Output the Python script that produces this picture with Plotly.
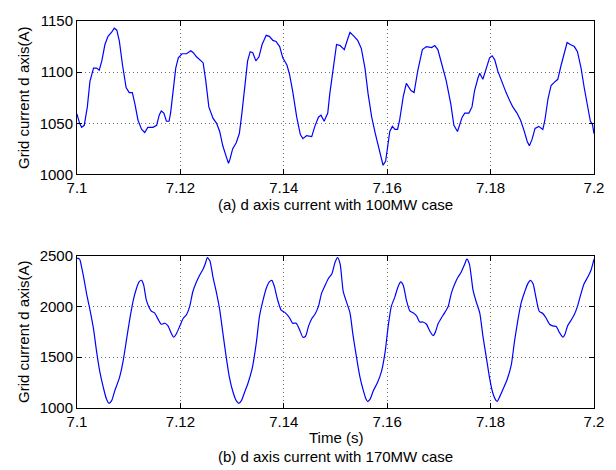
import plotly.graph_objects as go

# Grid current d-axis waveform, 100 MW case
time_100mw = [
    7.1000, 7.1005, 7.1009, 7.1014, 7.1020, 7.1025, 7.1032, 7.1038, 7.1043, 7.1048,
    7.1054, 7.1060, 7.1067, 7.1072, 7.1077, 7.1082, 7.1088, 7.1095, 7.1101, 7.1107,
    7.1112, 7.1118, 7.1125, 7.1131, 7.1137, 7.1147, 7.1154, 7.1159, 7.1163, 7.1168,
    7.1173, 7.1178, 7.1181, 7.1186, 7.1191, 7.1196, 7.1203, 7.1212, 7.1220, 7.1225,
    7.1231, 7.1240, 7.1244, 7.1249, 7.1255, 7.1263, 7.1270, 7.1276, 7.1282, 7.1289,
    7.1293, 7.1296, 7.1301, 7.1308, 7.1314, 7.1319, 7.1326, 7.1330, 7.1335, 7.1340,
    7.1346, 7.1352, 7.1358, 7.1366, 7.1372, 7.1379, 7.1385, 7.1392, 7.1398, 7.1406,
    7.1411, 7.1417, 7.1425, 7.1432, 7.1437, 7.1444, 7.1454, 7.1460, 7.1467, 7.1472,
    7.1478, 7.1485, 7.1489, 7.1496, 7.1502, 7.1509, 7.1517, 7.1522, 7.1528, 7.1534,
    7.1543, 7.1550, 7.1557, 7.1563, 7.1570, 7.1577, 7.1584, 7.1589, 7.1592, 7.1597,
    7.1601, 7.1605, 7.1610, 7.1615, 7.1620, 7.1624, 7.1631, 7.1637, 7.1646, 7.1652,
    7.1659, 7.1668, 7.1676, 7.1686, 7.1692, 7.1698, 7.1706, 7.1714, 7.1723, 7.1729,
    7.1736, 7.1740, 7.1745, 7.1750, 7.1758, 7.1764, 7.1769, 7.1776, 7.1779, 7.1785,
    7.1792, 7.1798, 7.1803, 7.1808, 7.1814, 7.1824, 7.1830, 7.1837, 7.1843, 7.1851,
    7.1858, 7.1864, 7.1871, 7.1875, 7.1880, 7.1886, 7.1893, 7.1901, 7.1905, 7.1911,
    7.1917, 7.1923, 7.1930, 7.1936, 7.1943, 7.1948, 7.1954, 7.1962, 7.1968, 7.1975,
    7.1981, 7.1988, 7.1993, 7.1997, 7.2000,
]
id_100mw = [
    1059, 1050, 1046, 1048, 1066, 1091, 1104, 1104, 1102, 1111,
    1127, 1135, 1139, 1143, 1141, 1130, 1107, 1085, 1080, 1080,
    1069, 1053, 1044, 1041, 1046, 1046, 1048, 1058, 1062, 1060,
    1052, 1052, 1060, 1082, 1104, 1114, 1118, 1118, 1121, 1119,
    1115, 1111, 1109, 1092, 1066, 1055, 1050, 1042, 1028, 1017,
    1011, 1015, 1025, 1031, 1040, 1060, 1092, 1111, 1120, 1119,
    1111, 1115, 1127, 1136, 1135, 1131, 1130, 1125, 1114, 1107,
    1098, 1082, 1056, 1039, 1035, 1038, 1037, 1047, 1056, 1058,
    1052, 1060, 1079, 1107, 1127, 1126, 1122, 1130, 1139, 1136,
    1131, 1123, 1104, 1079, 1056, 1040, 1025, 1013, 1009, 1013,
    1028, 1042, 1047, 1044, 1044, 1053, 1076, 1089, 1082, 1080,
    1101, 1122, 1125, 1124, 1126, 1122, 1107, 1092, 1069, 1048,
    1042, 1048, 1056, 1060, 1060, 1066, 1082, 1095, 1099, 1093,
    1104, 1114, 1116, 1112, 1101, 1087, 1080, 1072, 1066, 1060,
    1053, 1044, 1032, 1028, 1034, 1045, 1047, 1044, 1053, 1074,
    1087, 1090, 1093, 1106, 1120, 1129, 1127, 1125, 1120, 1104,
    1085, 1064, 1052, 1049, 1040,
]

# Grid current d-axis waveform, 170 MW case
time_170mw = [
    7.1000, 7.1005, 7.1009, 7.1014, 7.1019, 7.1025, 7.1032, 7.1038, 7.1044, 7.1051,
    7.1057, 7.1062, 7.1067, 7.1073, 7.1082, 7.1089, 7.1096, 7.1102, 7.1109, 7.1115,
    7.1120, 7.1125, 7.1129, 7.1134, 7.1140, 7.1144, 7.1150, 7.1157, 7.1163, 7.1170,
    7.1176, 7.1183, 7.1187, 7.1192, 7.1199, 7.1205, 7.1212, 7.1218, 7.1224, 7.1231,
    7.1237, 7.1244, 7.1249, 7.1252, 7.1257, 7.1263, 7.1270, 7.1276, 7.1282, 7.1289,
    7.1295, 7.1302, 7.1308, 7.1313, 7.1318, 7.1324, 7.1331, 7.1339, 7.1347, 7.1353,
    7.1360, 7.1366, 7.1372, 7.1377, 7.1382, 7.1388, 7.1395, 7.1403, 7.1411, 7.1417,
    7.1424, 7.1430, 7.1437, 7.1442, 7.1448, 7.1454, 7.1460, 7.1467, 7.1473, 7.1480,
    7.1486, 7.1493, 7.1499, 7.1504, 7.1509, 7.1515, 7.1522, 7.1528, 7.1534, 7.1541,
    7.1547, 7.1554, 7.1559, 7.1562, 7.1567, 7.1573, 7.1581, 7.1589, 7.1596, 7.1602,
    7.1608, 7.1615, 7.1621, 7.1626, 7.1631, 7.1637, 7.1644, 7.1650, 7.1657, 7.1663,
    7.1669, 7.1676, 7.1682, 7.1689, 7.1693, 7.1698, 7.1705, 7.1711, 7.1718, 7.1724,
    7.1731, 7.1737, 7.1743, 7.1750, 7.1754, 7.1759, 7.1766, 7.1772, 7.1779, 7.1785,
    7.1792, 7.1798, 7.1804, 7.1810, 7.1813, 7.1817, 7.1824, 7.1832, 7.1840, 7.1846,
    7.1853, 7.1859, 7.1866, 7.1872, 7.1877, 7.1882, 7.1888, 7.1894, 7.1901, 7.1907,
    7.1914, 7.1920, 7.1927, 7.1933, 7.1940, 7.1944, 7.1949, 7.1956, 7.1962, 7.1968,
    7.1975, 7.1981, 7.1988, 7.1994, 7.2000,
]
id_170mw = [
    2474, 2464, 2384, 2256, 2112, 1968, 1776, 1552, 1360, 1200,
    1088, 1046, 1072, 1168, 1296, 1456, 1680, 1872, 2064, 2176,
    2240, 2256, 2208, 2064, 1984, 1952, 1936, 1872, 1824, 1834,
    1808, 1728, 1696, 1728, 1808, 1878, 1920, 2000, 2144, 2240,
    2304, 2368, 2432, 2480, 2448, 2288, 2128, 1968, 1744, 1488,
    1296, 1152, 1072, 1046, 1072, 1152, 1248, 1392, 1648, 1904,
    2064, 2176, 2240, 2256, 2192, 2064, 1962, 1936, 1888, 1834,
    1834, 1776, 1696, 1706, 1808, 1878, 1920, 2000, 2128, 2208,
    2272, 2320, 2432, 2480, 2416, 2144, 2032, 1936, 1712, 1488,
    1312, 1168, 1088, 1066, 1088, 1168, 1248, 1360, 1552, 1808,
    2000, 2096, 2192, 2240, 2208, 2064, 1952, 1936, 1904, 1846,
    1846, 1824, 1760, 1712, 1744, 1824, 1888, 1936, 2000, 2128,
    2224, 2288, 2336, 2416, 2464, 2416, 2160, 2048, 1936, 1712,
    1488, 1296, 1152, 1078, 1066, 1104, 1184, 1280, 1424, 1648,
    1872, 2032, 2144, 2224, 2256, 2224, 2080, 1952, 1930, 1888,
    1824, 1808, 1802, 1744, 1696, 1728, 1808, 1866, 1920, 2000,
    2128, 2224, 2288, 2352, 2464,
]

x_tickvals = [7.10, 7.12, 7.14, 7.16, 7.18, 7.20]
x_ticktext = ["7.1", "7.12", "7.14", "7.16", "7.18", "7.2"]
y_ticks_100mw = [1000, 1050, 1100, 1150]
y_ticks_170mw = [1000, 1500, 2000, 2500]

FONT = "Liberation Sans, Arial, Helvetica, sans-serif"
BLUE = "#0000ff"

fig = go.Figure()
fig.add_trace(go.Scatter(x=time_100mw, y=id_100mw, mode="lines",
                         line=dict(color=BLUE, width=1.2),
                         xaxis="x", yaxis="y", showlegend=False))
fig.add_trace(go.Scatter(x=time_170mw, y=id_170mw, mode="lines",
                         line=dict(color=BLUE, width=1.2, shape="spline", smoothing=0.6),
                         xaxis="x2", yaxis="y2", showlegend=False))

axis_common = dict(
    showline=True, linecolor="black", linewidth=1, mirror="allticks",
    ticks="inside", ticklen=5, tickcolor="black",
    showgrid=True, gridcolor="#6e6e6e", griddash="1px,3px", gridwidth=1,
    zeroline=False, tickfont=dict(family=FONT, size=15, color="black"),
)

fig.update_layout(
    width=616, height=470,
    margin=dict(l=77, r=19, t=12, b=62),
    paper_bgcolor="white", plot_bgcolor="white",
    font=dict(family=FONT, size=15, color="black"),
    xaxis=dict(domain=[0, 1], anchor="y", range=[7.1, 7.2],
               tickvals=x_tickvals, ticktext=x_ticktext, **axis_common),
    yaxis=dict(domain=[0.6035, 1.0], anchor="x", range=[1000, 1150],
               tickvals=y_ticks_100mw, **axis_common,
               title=dict(text="Grid current d axis(A)", standoff=6,
                          font=dict(family=FONT, size=15))),
    xaxis2=dict(domain=[0, 1], anchor="y2", range=[7.1, 7.2],
                tickvals=x_tickvals, ticktext=x_ticktext, **axis_common),
    yaxis2=dict(domain=[0.0, 0.394], anchor="x2", range=[1000, 2500],
                tickvals=y_ticks_170mw, **axis_common,
                title=dict(text="Grid current d axis(A)", standoff=6,
                           font=dict(family=FONT, size=15))),
    annotations=[
        dict(text="(a) d axis current with 100MW case", xref="paper", yref="paper",
             x=0.5, y=0.525, xanchor="center", yanchor="middle", showarrow=False,
             font=dict(family=FONT, size=15)),
        dict(text="Time (s)", xref="paper", yref="paper",
             x=0.5, y=-0.0758, xanchor="center", yanchor="middle", showarrow=False,
             font=dict(family=FONT, size=15)),
        dict(text="(b) d axis current with 170MW case", xref="paper", yref="paper",
             x=0.5, y=-0.126, xanchor="center", yanchor="middle", showarrow=False,
             font=dict(family=FONT, size=15)),
    ],
)

fig.write_html("out.html")
